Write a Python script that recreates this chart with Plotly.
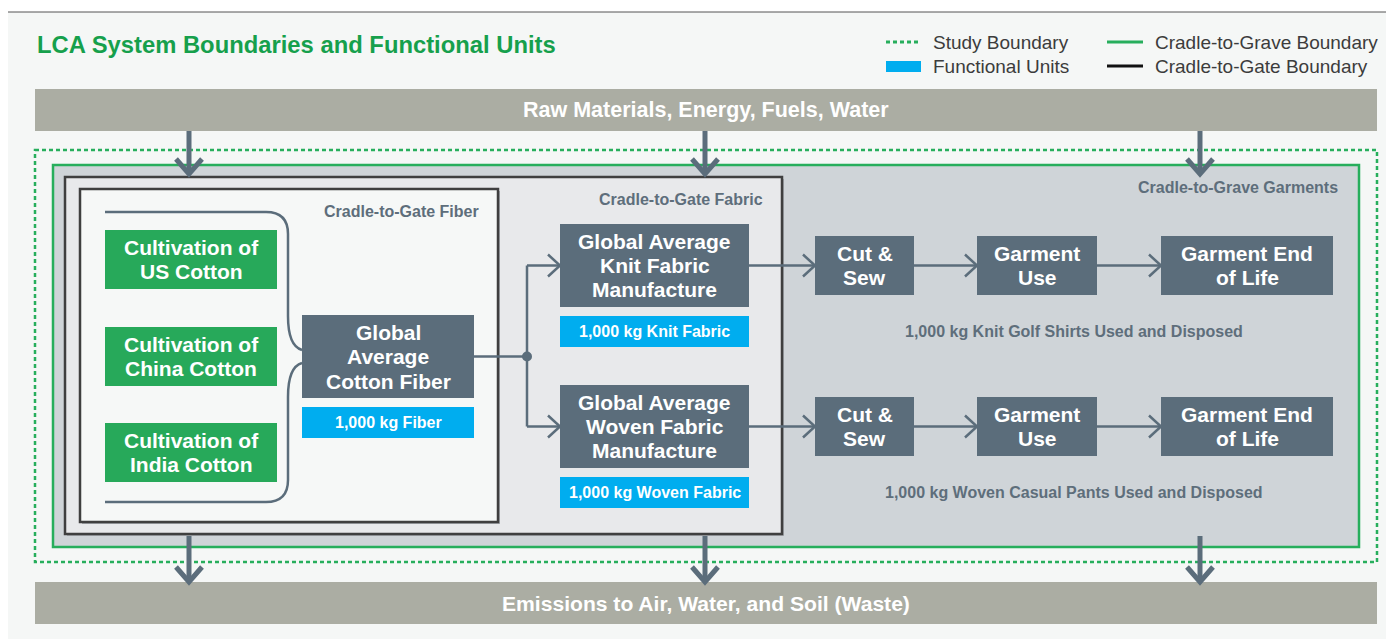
import plotly.graph_objects as go

W, H = 1394, 639
PAGE_OFFSET = 8  # default body margin of the html page

# ---------------- text content ----------------
TITLE = "LCA System Boundaries and Functional Units"
TOP_BAND = "Raw Materials, Energy, Fuels, Water"
BOTTOM_BAND = "Emissions to Air, Water, and Soil (Waste)"
LEGEND_ITEMS = ["Study Boundary", "Functional Units", "Cradle-to-Grave Boundary", "Cradle-to-Gate Boundary"]
BOUNDARY_LABELS = ["Cradle-to-Gate Fiber", "Cradle-to-Gate Fabric", "Cradle-to-Grave Garments"]
CULTIVATION = [["Cultivation of", "US Cotton"], ["Cultivation of", "China Cotton"], ["Cultivation of", "India Cotton"]]
FIBER = ["Global", "Average", "Cotton Fiber"]
FABRICS = [["Global Average", "Knit Fabric", "Manufacture"], ["Global Average", "Woven Fabric", "Manufacture"]]
GARMENT_STEPS = [["Cut &", "Sew"], ["Garment", "Use"], ["Garment End", "of Life"]]
FUNCTIONAL_UNITS = ["1,000 kg Fiber", "1,000 kg Knit Fabric", "1,000 kg Woven Fabric"]
GARMENT_UNITS = ["1,000 kg Knit Golf Shirts Used and Disposed", "1,000 kg Woven Casual Pants Used and Disposed"]

# ---------------- layout geometry (pixels) ----------------
CULT_X = (105, 277)
CULT_Y = [(230, 289), (327, 386), (423, 482)]
FIBER_BOX = (302, 474, 315, 398)
FIBER_FU = (302, 474, 407, 438)
FABRIC_X = (560, 749)
FABRIC_Y = [(224, 307), (385, 468)]
FABRIC_FU_Y = [(316, 347), (477, 508)]
STEP_X = [(815, 914), (977, 1097), (1161, 1333)]
ROW_Y = [(236, 295), (397, 456)]
IO_ARROW_X = [189, 705, 1200]

# ---------------- styles ----------------
FONT = "Liberation Sans, Arial, Helvetica, sans-serif"
SLATE = "#5b6d7b"
GREEN_BOX = "#27a95a"
GREEN_LINE = "#27ae5c"
BLUE = "#00adef"
BAND = "#abada3"
LABEL = "#5e6e7b"
BOX_FS = 21
FU_FS = 16
LABEL_FS = 16

fig = go.Figure()
shapes = []
annos = []


def rect(x0, x1, y0, y1, fill, line=None, lw=0, dash=None):
    d = dict(type="rect", xref="x", yref="y", x0=x0, x1=x1, y0=y0, y1=y1,
             fillcolor=fill, line=dict(width=lw, color=line or "rgba(0,0,0,0)"))
    if dash:
        d["line"]["dash"] = dash
    shapes.append(d)


def path(p, color=SLATE, lw=2.5, fill=None):
    d = dict(type="path", xref="x", yref="y", path=p, line=dict(color=color, width=lw))
    if fill:
        d["fillcolor"] = fill
    shapes.append(d)


def text(x, y, t, size, color="white", weight="bold", xanchor="center"):
    annos.append(dict(x=x, y=y, xref="x", yref="y", text=t, showarrow=False,
                      xanchor=xanchor, yanchor="middle",
                      font=dict(family=FONT, size=size, color=color, weight=weight)))


def lines(ls, cx, cy, size, spacing, color="white"):
    n = len(ls)
    for i, t in enumerate(ls):
        text(cx, cy + (i - (n - 1) / 2) * spacing, t, size, color)


def box(x0, x1, y0, y1, fill, ls, size=BOX_FS, spacing=24):
    rect(x0, x1, y0, y1, fill)
    lines(ls, (x0 + x1) / 2, (y0 + y1) / 2, size, spacing)


def arrow_right(x0, x1, y, leg=12, half=11, lw=2.5):
    path(f"M {x0},{y} L {x1 - 1},{y}", lw=lw)
    path(f"M {x1 - leg},{y - half} L {x1},{y} L {x1 - leg},{y + half}", lw=lw)


def arrow_down(x, y0, tip, half=13, leg=15, lw=5):
    path(f"M {x},{y0} L {x},{tip - 3}", lw=lw)
    path(f"M {x - half},{tip - leg} L {x},{tip} L {x + half},{tip - leg}", lw=lw)


# frame / background
rect(7, W + 30, 12, H + 30, "#f5f7f6", "#555555", 1)

# title
text(35, 44, TITLE, 23.8, "#16a04c", "bold", "left")

# legend
path("M 886,42 L 921,42", color=GREEN_LINE, lw=3)
shapes[-1]["line"]["dash"] = "4px,3px"
rect(886, 921, 61, 72, BLUE)
path("M 1107,42 L 1143,42", color=GREEN_LINE, lw=3)
path("M 1107,66 L 1143,66", color="#111111", lw=3)
text(931, 42, LEGEND_ITEMS[0], 19, "#3c3c3c", "normal", "left")
text(931, 66, LEGEND_ITEMS[1], 19, "#3c3c3c", "normal", "left")
text(1153, 42, LEGEND_ITEMS[2], 19, "#3c3c3c", "normal", "left")
text(1153, 66, LEGEND_ITEMS[3], 19, "#3c3c3c", "normal", "left")

# bands
rect(35, 1377, 89, 131, BAND)
text(706, 110, TOP_BAND, 21.5)
rect(35, 1377, 582, 624, BAND)
text(706, 603, BOTTOM_BAND, 21.1)

# boundaries
rect(35, 1377, 150, 562, "rgba(0,0,0,0)", GREEN_LINE, 2.5, "4px,3px")
rect(53, 1359, 165, 547, "#cfd4d8", GREEN_LINE, 2.5)
rect(67, 784, 179, 536, "#a9adb2")
rect(65, 782, 177, 534, "#e8e9eb", "#3f3f3f", 2.5)
rect(82, 500, 191, 524, "#a9adb2")
rect(80, 498, 189, 522, "#f6f8f7", "#3f3f3f", 2.5)

text(481, 211, BOUNDARY_LABELS[0], LABEL_FS, LABEL, "bold", "right")
text(765, 199, BOUNDARY_LABELS[1], LABEL_FS, LABEL, "bold", "right")
text(1340, 187, BOUNDARY_LABELS[2], LABEL_FS, LABEL, "bold", "right")

# bracket from cultivation to fiber
path("M 105,212 L 266,212 Q 288,212 288,234 L 288,316 Q 288,346 302,350")
path("M 302,363 Q 288,367 288,397 L 288,480 Q 288,502 266,502 L 105,502")

# cultivation boxes
for (y0, y1), ls in zip(CULT_Y, CULTIVATION):
    box(CULT_X[0], CULT_X[1], y0, y1, GREEN_BOX, ls)

# fiber
fx0, fx1, fy0, fy1 = FIBER_BOX
box(fx0, fx1, fy0, fy1, SLATE, FIBER, BOX_FS, 24.5)
ux0, ux1, uy0, uy1 = FIBER_FU
box(ux0, ux1, uy0, uy1, BLUE, [FUNCTIONAL_UNITS[0]], FU_FS)

# split to fabrics
jx, jy = 527, 356.5
path(f"M {fx1},{jy} L {jx},{jy}")
fab_mid = [(a + b) / 2 for a, b in FABRIC_Y]
path(f"M {jx},{fab_mid[0]} L {jx},{fab_mid[1]}")
for ym in fab_mid:
    arrow_right(jx, FABRIC_X[0], ym)
shapes.append(dict(type="circle", xref="x", yref="y", x0=jx - 5, x1=jx + 5, y0=jy - 5, y1=jy + 5,
                   fillcolor=SLATE, line=dict(width=0)))

for (y0, y1), ls, (uy0, uy1), fu in zip(FABRIC_Y, FABRICS, FABRIC_FU_Y, FUNCTIONAL_UNITS[1:]):
    box(FABRIC_X[0], FABRIC_X[1], y0, y1, SLATE, ls, BOX_FS, 24)
    box(FABRIC_X[0], FABRIC_X[1], uy0, uy1, BLUE, [fu], FU_FS)

# garment rows
for (y0, y1), fab_y, unit in zip(ROW_Y, FABRIC_Y, GARMENT_UNITS):
    ym = (y0 + y1) / 2
    arrow_right(FABRIC_X[1], STEP_X[0][0], ym)
    for i, ((x0, x1), ls) in enumerate(zip(STEP_X, GARMENT_STEPS)):
        box(x0, x1, y0, y1, SLATE, ls, BOX_FS, 24)
        if i < len(STEP_X) - 1:
            arrow_right(x1, STEP_X[i + 1][0], ym)
    text(1074, y1 + 36, unit, LABEL_FS, LABEL, "bold")

# input / output arrows
for x in IO_ARROW_X:
    arrow_down(x, 131, 174)
    arrow_down(x, 536, 582)

fig.update_layout(
    width=W, height=H, autosize=False,
    margin=dict(l=0, r=0, t=0, b=0),
    paper_bgcolor="white", plot_bgcolor="white",
    xaxis=dict(range=[PAGE_OFFSET, W + PAGE_OFFSET], visible=False, fixedrange=True),
    yaxis=dict(range=[H + PAGE_OFFSET, PAGE_OFFSET], visible=False, fixedrange=True),
    shapes=shapes, annotations=annos, showlegend=False,
)
fig.write_html("out.html")
